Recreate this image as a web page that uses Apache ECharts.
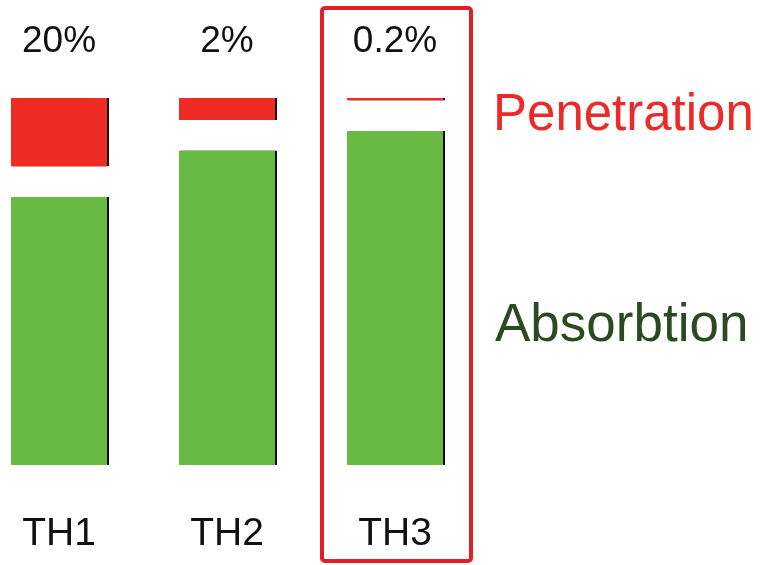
<!DOCTYPE html>
<html>
<head>
<meta charset="utf-8">
<script src="https://cdn.jsdelivr.net/npm/echarts@6/dist/echarts.min.js"></script>
<style>
html,body{margin:0;padding:0;background:#fff;}
#main{width:765px;height:565px;}
</style>
</head>
<body>
<div id="main"></div>
<script>
// 数据
var categories = ['TH1', 'TH2', 'TH3'];
var absorption = [73.0, 85.6, 91.0];
var gap = [8.4, 8.4, 8.4];
var penetration = [18.6, 6.0, 0.6];
var percentLabels = ['20%', '2%', '0.2%'];

var dom_main = document.getElementById('main');
var myChart = echarts.init(dom_main);

var barShadow = {shadowColor: '#111', shadowOffsetX: 2, shadowOffsetY: 0, shadowBlur: 0};

var option = {
    animation: false,
    grid: {left: -25, width: 504, top: 98, bottom: 100, outerBoundsMode: 'none', containLabel: false},
    xAxis: {
        type: 'category',
        data: categories,
        axisLine: {show: false},
        axisTick: {show: false},
        axisLabel: {
            margin: 50,
            color: '#111',
            fontFamily: 'Liberation Sans',
            fontSize: 39
        }
    },
    yAxis: {type: 'value', min: 0, max: 100, show: false},
    series: [
        {
            name: 'Absorbtion',
            type: 'bar',
            stack: 'a',
            barWidth: 96,
            data: absorption,
            itemStyle: Object.assign({color: '#69ba45'}, barShadow)
        },
        {
            name: 'gap',
            type: 'bar',
            stack: 'a',
            data: gap,
            itemStyle: {color: 'rgba(0,0,0,0)'}
        },
        {
            name: 'Penetration',
            type: 'bar',
            stack: 'a',
            data: penetration,
            itemStyle: Object.assign({color: '#ee2b24'}, barShadow),
            label: {
                show: true,
                position: 'top',
                distance: 38,
                color: '#111',
                fontFamily: 'Liberation Sans',
                fontSize: 37,
                formatter: function (p) { return percentLabels[p.dataIndex]; }
            }
        }
    ],
    graphic: [
        {
            type: 'rect',
            shape: {x: 322, y: 8, width: 149, height: 553, r: 3},
            style: {fill: 'none', stroke: '#e31e26', lineWidth: 4}
        },
        {
            type: 'text',
            left: 493, top: 90,
            style: {text: 'Penetration', fill: '#ec2a2a', font: '51px "Liberation Sans"'}
        },
        {
            type: 'text',
            left: 495, top: 300,
            style: {text: 'Absorbtion', fill: '#2c4a22', font: '53px "Liberation Sans"'}
        }
    ]
};
if (option && typeof option === 'object') {
    myChart.setOption(option, true);
}
</script>
</body>
</html>
